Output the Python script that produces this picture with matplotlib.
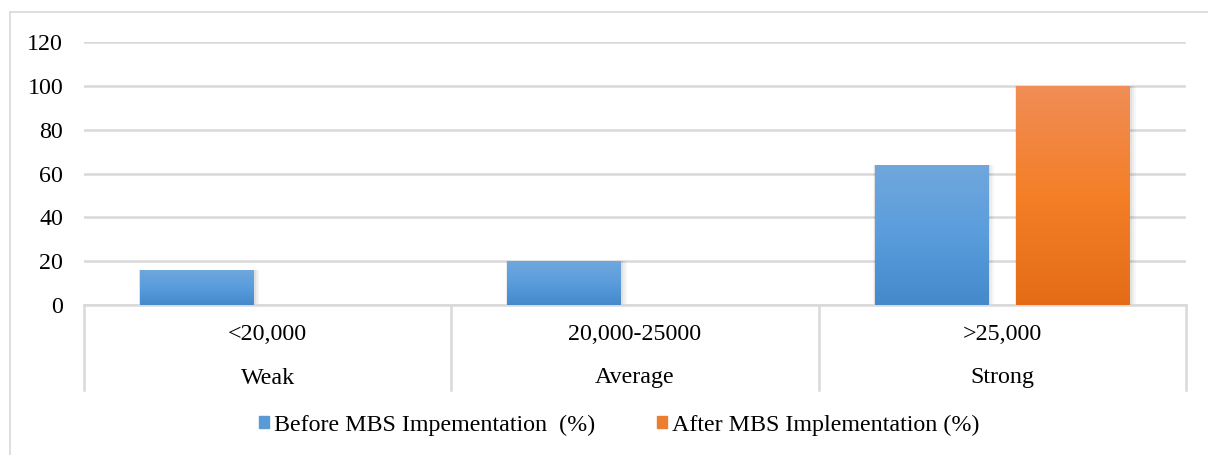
import numpy as np
import matplotlib
matplotlib.use("Agg")
import matplotlib.pyplot as plt
from matplotlib.colors import LinearSegmentedColormap
from matplotlib.patches import Rectangle
from matplotlib.lines import Line2D

# ---------------------------------------------------------- data
income = ["<20,000", "20,000-25000", ">25,000"]
level = ["Weak", "Average", "Strong"]
before = [16, 20, 64]
after = [0, 0, 100]
series_names = ["Before MBS Impementation  (%)", "After MBS Implementation (%)"]
y_ticks = [0, 20, 40, 60, 80, 100, 120]

# ---------------------------------------------------------- style
plt.rcParams["font.family"] = ["Liberation Serif", "DejaVu Serif"]
FS = 17.3
GRID = "#d9d9d9"
blue_cmap = LinearSegmentedColormap.from_list("b", ["#4589cb", "#5a9ddd", "#70a7dc"])
orange_cmap = LinearSegmentedColormap.from_list("o", ["#e46c17", "#f47f27", "#f08d57"])

W, H = 1208, 455
fig = plt.figure(figsize=(W / 100, H / 100), dpi=100)

# outer chart frame (top + left visible)
fig.add_artist(Line2D([10 / W, 10 / W], [0, 1 - 12 / H], transform=fig.transFigure,
                      color=GRID, lw=1.2))
fig.add_artist(Line2D([10 / W, 1], [1 - 12 / H, 1 - 12 / H], transform=fig.transFigure,
                      color=GRID, lw=1.2))

left, right, bottom, top = 84, 1186, 305, 42
ax = fig.add_axes([left / W, 1 - bottom / H, (right - left) / W, (bottom - top) / H])
ax.set_xlim(-0.5, 2.5)
ax.set_ylim(0, 120)
ax.set_yticks(y_ticks)
ax.set_yticklabels([str(t) for t in y_ticks], fontsize=FS)
ax.tick_params(axis="y", length=0, pad=15)
ax.set_xticks([])
for s in ("top", "right", "left"):
    ax.spines[s].set_visible(False)
ax.spines["bottom"].set_color(GRID)
ax.spines["bottom"].set_linewidth(1.8)
ax.yaxis.grid(True, color=GRID, lw=1.8)
ax.set_axisbelow(True)

x = np.arange(len(income))
bw, off = 0.31, 0.193
grad = np.linspace(0, 1, 256).reshape(-1, 1)


def gradient_bars(xs, vals, cmap):
    for xi, v in zip(xs, vals):
        if v <= 0:
            continue
        # soft shadow
        for k, a in enumerate([0.05, 0.04, 0.03]):
            d = 0.004 * (k + 1)
            ax.add_patch(Rectangle((xi - bw / 2 - d * 0.3, -0.6 * (k + 1)),
                                   bw + d * 1.6, v + 0.6 * (k + 1),
                                   color="black", alpha=a, lw=0, zorder=2))
        bar = ax.bar(xi, v, bw, color="none", zorder=3)[0]
        im = ax.imshow(grad, cmap=cmap, aspect="auto", origin="lower",
                       extent=(xi - bw / 2, xi + bw / 2, 0, v), zorder=3)
        im.set_clip_path(bar)


gradient_bars(x - off, before, blue_cmap)
gradient_bars(x + off, after, orange_cmap)
ax.set_xlim(-0.5, 2.5)
ax.set_ylim(0, 120)

# multi-level category axis
axis_bottom = 390
ybot = (axis_bottom - bottom) / (bottom - top) * 120
for b in [-0.5, 0.5, 1.5, 2.5]:
    ax.plot([b, b], [0, -ybot], color=GRID, lw=1.8, clip_on=False)
px = 120 / (bottom - top)
for i in range(len(income)):
    ax.text(x[i], -(334 - bottom) * px, income[i], ha="center", va="center", fontsize=FS)
    ax.text(x[i], -(378 - bottom) * px, level[i], ha="center", va="center", fontsize=FS)

handles = [Rectangle((0, 0), 1, 1, color="#5b9bd5"), Rectangle((0, 0), 1, 1, color="#ed7d31")]
fig.legend(handles, series_names, loc="center", bbox_to_anchor=(619 / W, 1 - 425 / H),
           ncol=2, frameon=False, fontsize=FS, handlelength=0.42, handleheight=0.42,
           handletextpad=0.2, columnspacing=2.6)

fig.savefig("out.png", dpi=100)
